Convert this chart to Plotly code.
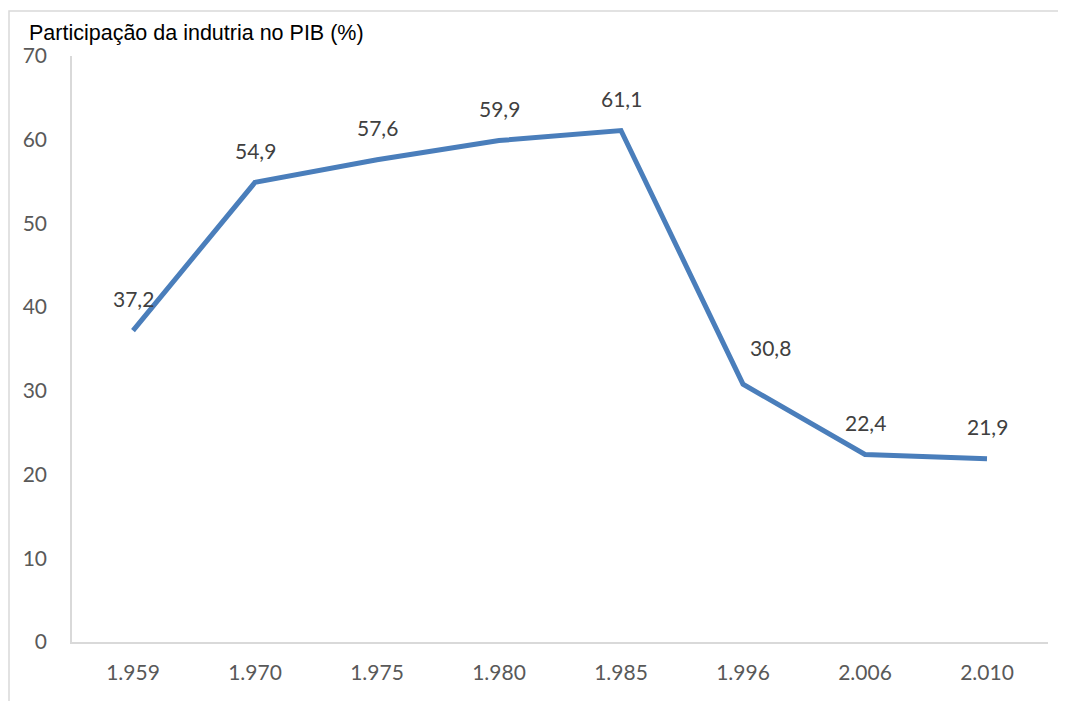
import plotly.graph_objects as go

years = ["1.959", "1.970", "1.975", "1.980", "1.985", "1.996", "2.006", "2.010"]
values = [37.2, 54.9, 57.6, 59.9, 61.1, 30.8, 22.4, 21.9]
labels = [f"{v:.1f}".replace(".", ",") for v in values]
title_text = "Participação da indutria no PIB (%)"

OFF = 8  # page body margin
W, H = 1058, 693
# plot area in screen pixels: x 72..1048, y 56..642
L = 72 - OFF
T = 56 - OFF
R = W - (1048 - OFF)
B = H - (642 - OFF)
pw, ph = W - L - R, H - T - B

def px2x(px):
    return (px - OFF - L) / pw

def py2y(py):
    return (H - B - (py - OFF)) / ph

font_num = "Lato, Open Sans, sans-serif"

fig = go.Figure()
fig.add_trace(go.Scatter(
    x=years, y=values, mode="lines",
    line=dict(color="#4A7EBB", width=5),
    showlegend=False, hoverinfo="x+y",
))

annots = []
for i, (v, t) in enumerate(zip(values, labels)):
    # the 1.996 label sits to the right of the steep segment in the reference
    xs, ys = (27, 37) if i == 5 else (0, 32)
    annots.append(dict(x=i, y=v, text=t, xref="x", yref="y", showarrow=False,
                       xshift=xs, yshift=ys, xanchor="center", yanchor="middle",
                       font=dict(family=font_num, size=21, color="#404040")))
annots.append(dict(text=title_text, xref="paper", yref="paper",
                   x=px2x(27), y=py2y(33), xanchor="left", yanchor="middle",
                   showarrow=False,
                   font=dict(family="Liberation Sans, Arial", size=21.5, color="black")))

fig.update_layout(
    width=W, height=H,
    margin=dict(l=L, r=R, t=T, b=B),
    paper_bgcolor="white", plot_bgcolor="white",
    xaxis=dict(type="category", range=[-0.5, 7.5], showgrid=False,
               showline=True, linecolor="#D9D9D9", linewidth=1.5,
               ticks="", ticklabelstandoff=11,
               tickfont=dict(family=font_num, size=21, color="#595959")),
    yaxis=dict(range=[0, 70], dtick=10, showgrid=False, zeroline=False,
               showline=True, linecolor="#D9D9D9", linewidth=1.5,
               ticks="", ticklabelstandoff=19,
               tickfont=dict(family=font_num, size=21, color="#595959")),
    annotations=annots,
    shapes=[dict(type="rect", xref="paper", yref="paper",
                 x0=px2x(9), x1=px2x(1080), y0=py2y(720), y1=py2y(11),
                 line=dict(color="#D9D9D9", width=1.5), fillcolor="rgba(0,0,0,0)",
                 layer="below")],
)

fig.write_html("out.html")
